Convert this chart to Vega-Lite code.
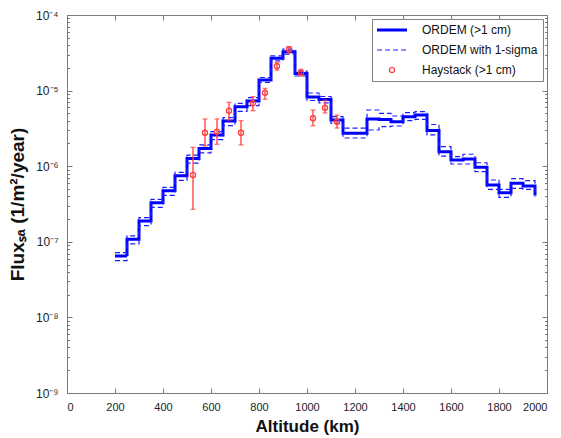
{
  "$schema": "https://vega.github.io/schema/vega-lite/v6.json",
  "width": 480,
  "height": 378,
  "autosize": {"type": "none"},
  "padding": {"left": 67, "top": 15, "right": 14, "bottom": 45},
  "background": "white",
  "config": {
    "font": "Liberation Sans",
    "view": {"stroke": "#7a7a7a", "strokeWidth": 1},
    "axis": {"domain": false, "grid": false, "labelFont": "Liberation Sans", "labelFontSize": 11, "labelColor": "#222222", "tickColor": "#7a7a7a", "tickWidth": 1, "titleFont": "Liberation Sans", "titleFontWeight": "bold", "titleColor": "#111111"},
    "legend": {"orient": "top-right", "offset": 4, "strokeColor": "#808080", "fillColor": "white", "padding": 5, "labelFont": "Liberation Sans", "labelFontSize": 12, "labelColor": "#111111", "labelOffset": 24, "symbolOffset": 9, "rowPadding": 8, "symbolType": "stroke"}
  },
  "datasets": {
    "ordem": [
      {"s": "ORDEM (>1 cm)", "b": "mid", "x": 200, "y": 6.5e-8},
      {"s": "ORDEM (>1 cm)", "b": "mid", "x": 250, "y": 1.08e-7},
      {"s": "ORDEM (>1 cm)", "b": "mid", "x": 300, "y": 1.88e-7},
      {"s": "ORDEM (>1 cm)", "b": "mid", "x": 350, "y": 3.29e-7},
      {"s": "ORDEM (>1 cm)", "b": "mid", "x": 400, "y": 4.74e-7},
      {"s": "ORDEM (>1 cm)", "b": "mid", "x": 450, "y": 7.48e-7},
      {"s": "ORDEM (>1 cm)", "b": "mid", "x": 500, "y": 1.26e-6},
      {"s": "ORDEM (>1 cm)", "b": "mid", "x": 550, "y": 1.72e-6},
      {"s": "ORDEM (>1 cm)", "b": "mid", "x": 600, "y": 2.59e-6},
      {"s": "ORDEM (>1 cm)", "b": "mid", "x": 650, "y": 3.96e-6},
      {"s": "ORDEM (>1 cm)", "b": "mid", "x": 700, "y": 6.12e-6},
      {"s": "ORDEM (>1 cm)", "b": "mid", "x": 750, "y": 7.28e-6},
      {"s": "ORDEM (>1 cm)", "b": "mid", "x": 800, "y": 1.38e-5},
      {"s": "ORDEM (>1 cm)", "b": "mid", "x": 850, "y": 2.67e-5},
      {"s": "ORDEM (>1 cm)", "b": "mid", "x": 900, "y": 3.27e-5},
      {"s": "ORDEM (>1 cm)", "b": "mid", "x": 950, "y": 1.68e-5},
      {"s": "ORDEM (>1 cm)", "b": "mid", "x": 1000, "y": 8.23e-6},
      {"s": "ORDEM (>1 cm)", "b": "mid", "x": 1050, "y": 7.62e-6},
      {"s": "ORDEM (>1 cm)", "b": "mid", "x": 1100, "y": 4.08e-6},
      {"s": "ORDEM (>1 cm)", "b": "mid", "x": 1150, "y": 2.72e-6},
      {"s": "ORDEM (>1 cm)", "b": "mid", "x": 1200, "y": 2.72e-6},
      {"s": "ORDEM (>1 cm)", "b": "mid", "x": 1250, "y": 4.21e-6},
      {"s": "ORDEM (>1 cm)", "b": "mid", "x": 1300, "y": 4.15e-6},
      {"s": "ORDEM (>1 cm)", "b": "mid", "x": 1350, "y": 3.88e-6},
      {"s": "ORDEM (>1 cm)", "b": "mid", "x": 1400, "y": 4.52e-6},
      {"s": "ORDEM (>1 cm)", "b": "mid", "x": 1450, "y": 4.75e-6},
      {"s": "ORDEM (>1 cm)", "b": "mid", "x": 1500, "y": 2.97e-6},
      {"s": "ORDEM (>1 cm)", "b": "mid", "x": 1550, "y": 1.55e-6},
      {"s": "ORDEM (>1 cm)", "b": "mid", "x": 1600, "y": 1.21e-6},
      {"s": "ORDEM (>1 cm)", "b": "mid", "x": 1650, "y": 1.245e-6},
      {"s": "ORDEM (>1 cm)", "b": "mid", "x": 1700, "y": 9.67e-7},
      {"s": "ORDEM (>1 cm)", "b": "mid", "x": 1750, "y": 5.64e-7},
      {"s": "ORDEM (>1 cm)", "b": "mid", "x": 1800, "y": 4.46e-7},
      {"s": "ORDEM (>1 cm)", "b": "mid", "x": 1850, "y": 5.94e-7},
      {"s": "ORDEM (>1 cm)", "b": "mid", "x": 1900, "y": 5.47e-7},
      {"s": "ORDEM (>1 cm)", "b": "mid", "x": 1950, "y": 4.1e-7},
      {"s": "ORDEM with 1-sigma", "b": "up", "x": 200, "y": 7.2e-8},
      {"s": "ORDEM with 1-sigma", "b": "up", "x": 250, "y": 1.2e-7},
      {"s": "ORDEM with 1-sigma", "b": "up", "x": 300, "y": 2.09e-7},
      {"s": "ORDEM with 1-sigma", "b": "up", "x": 350, "y": 3.65e-7},
      {"s": "ORDEM with 1-sigma", "b": "up", "x": 400, "y": 5.26e-7},
      {"s": "ORDEM with 1-sigma", "b": "up", "x": 450, "y": 8.3e-7},
      {"s": "ORDEM with 1-sigma", "b": "up", "x": 500, "y": 1.4e-6},
      {"s": "ORDEM with 1-sigma", "b": "up", "x": 550, "y": 1.91e-6},
      {"s": "ORDEM with 1-sigma", "b": "up", "x": 600, "y": 2.87e-6},
      {"s": "ORDEM with 1-sigma", "b": "up", "x": 650, "y": 4.4e-6},
      {"s": "ORDEM with 1-sigma", "b": "up", "x": 700, "y": 6.79e-6},
      {"s": "ORDEM with 1-sigma", "b": "up", "x": 750, "y": 8.08e-6},
      {"s": "ORDEM with 1-sigma", "b": "up", "x": 800, "y": 1.49e-5},
      {"s": "ORDEM with 1-sigma", "b": "up", "x": 850, "y": 2.88e-5},
      {"s": "ORDEM with 1-sigma", "b": "up", "x": 900, "y": 3.53e-5},
      {"s": "ORDEM with 1-sigma", "b": "up", "x": 950, "y": 1.81e-5},
      {"s": "ORDEM with 1-sigma", "b": "up", "x": 1000, "y": 9.3e-6},
      {"s": "ORDEM with 1-sigma", "b": "up", "x": 1050, "y": 8.35e-6},
      {"s": "ORDEM with 1-sigma", "b": "up", "x": 1100, "y": 4.52e-6},
      {"s": "ORDEM with 1-sigma", "b": "up", "x": 1150, "y": 3.18e-6},
      {"s": "ORDEM with 1-sigma", "b": "up", "x": 1200, "y": 3.18e-6},
      {"s": "ORDEM with 1-sigma", "b": "up", "x": 1250, "y": 5.54e-6},
      {"s": "ORDEM with 1-sigma", "b": "up", "x": 1300, "y": 5.01e-6},
      {"s": "ORDEM with 1-sigma", "b": "up", "x": 1350, "y": 4.61e-6},
      {"s": "ORDEM with 1-sigma", "b": "up", "x": 1400, "y": 5.1e-6},
      {"s": "ORDEM with 1-sigma", "b": "up", "x": 1450, "y": 5.26e-6},
      {"s": "ORDEM with 1-sigma", "b": "up", "x": 1500, "y": 3.56e-6},
      {"s": "ORDEM with 1-sigma", "b": "up", "x": 1550, "y": 1.81e-6},
      {"s": "ORDEM with 1-sigma", "b": "up", "x": 1600, "y": 1.34e-6},
      {"s": "ORDEM with 1-sigma", "b": "up", "x": 1650, "y": 1.44e-6},
      {"s": "ORDEM with 1-sigma", "b": "up", "x": 1700, "y": 1.11e-6},
      {"s": "ORDEM with 1-sigma", "b": "up", "x": 1750, "y": 6.57e-7},
      {"s": "ORDEM with 1-sigma", "b": "up", "x": 1800, "y": 4.95e-7},
      {"s": "ORDEM with 1-sigma", "b": "up", "x": 1850, "y": 6.83e-7},
      {"s": "ORDEM with 1-sigma", "b": "up", "x": 1900, "y": 6.43e-7},
      {"s": "ORDEM with 1-sigma", "b": "up", "x": 1950, "y": 4.3e-7},
      {"s": "ORDEM with 1-sigma", "b": "lo", "x": 200, "y": 5.65e-8},
      {"s": "ORDEM with 1-sigma", "b": "lo", "x": 250, "y": 9.4e-8},
      {"s": "ORDEM with 1-sigma", "b": "lo", "x": 300, "y": 1.64e-7},
      {"s": "ORDEM with 1-sigma", "b": "lo", "x": 350, "y": 2.86e-7},
      {"s": "ORDEM with 1-sigma", "b": "lo", "x": 400, "y": 4.12e-7},
      {"s": "ORDEM with 1-sigma", "b": "lo", "x": 450, "y": 6.5e-7},
      {"s": "ORDEM with 1-sigma", "b": "lo", "x": 500, "y": 1.1e-6},
      {"s": "ORDEM with 1-sigma", "b": "lo", "x": 550, "y": 1.5e-6},
      {"s": "ORDEM with 1-sigma", "b": "lo", "x": 600, "y": 2.25e-6},
      {"s": "ORDEM with 1-sigma", "b": "lo", "x": 650, "y": 3.45e-6},
      {"s": "ORDEM with 1-sigma", "b": "lo", "x": 700, "y": 5.32e-6},
      {"s": "ORDEM with 1-sigma", "b": "lo", "x": 750, "y": 6.33e-6},
      {"s": "ORDEM with 1-sigma", "b": "lo", "x": 800, "y": 1.28e-5},
      {"s": "ORDEM with 1-sigma", "b": "lo", "x": 850, "y": 2.48e-5},
      {"s": "ORDEM with 1-sigma", "b": "lo", "x": 900, "y": 3.04e-5},
      {"s": "ORDEM with 1-sigma", "b": "lo", "x": 950, "y": 1.56e-5},
      {"s": "ORDEM with 1-sigma", "b": "lo", "x": 1000, "y": 7.4e-6},
      {"s": "ORDEM with 1-sigma", "b": "lo", "x": 1050, "y": 6.86e-6},
      {"s": "ORDEM with 1-sigma", "b": "lo", "x": 1100, "y": 3.69e-6},
      {"s": "ORDEM with 1-sigma", "b": "lo", "x": 1150, "y": 2.36e-6},
      {"s": "ORDEM with 1-sigma", "b": "lo", "x": 1200, "y": 2.36e-6},
      {"s": "ORDEM with 1-sigma", "b": "lo", "x": 1250, "y": 3.01e-6},
      {"s": "ORDEM with 1-sigma", "b": "lo", "x": 1300, "y": 3.33e-6},
      {"s": "ORDEM with 1-sigma", "b": "lo", "x": 1350, "y": 3.4e-6},
      {"s": "ORDEM with 1-sigma", "b": "lo", "x": 1400, "y": 4.0e-6},
      {"s": "ORDEM with 1-sigma", "b": "lo", "x": 1450, "y": 4.17e-6},
      {"s": "ORDEM with 1-sigma", "b": "lo", "x": 1500, "y": 2.59e-6},
      {"s": "ORDEM with 1-sigma", "b": "lo", "x": 1550, "y": 1.36e-6},
      {"s": "ORDEM with 1-sigma", "b": "lo", "x": 1600, "y": 1.07e-6},
      {"s": "ORDEM with 1-sigma", "b": "lo", "x": 1650, "y": 1.07e-6},
      {"s": "ORDEM with 1-sigma", "b": "lo", "x": 1700, "y": 8.46e-7},
      {"s": "ORDEM with 1-sigma", "b": "lo", "x": 1750, "y": 4.95e-7},
      {"s": "ORDEM with 1-sigma", "b": "lo", "x": 1800, "y": 3.88e-7},
      {"s": "ORDEM with 1-sigma", "b": "lo", "x": 1850, "y": 5.1e-7},
      {"s": "ORDEM with 1-sigma", "b": "lo", "x": 1900, "y": 4.95e-7},
      {"s": "ORDEM with 1-sigma", "b": "lo", "x": 1950, "y": 3.9e-7}
    ],
    "hay": [
      {"s": "Haystack (>1 cm)", "x": 525, "y": 7.66e-7, "lo": 2.69e-7, "hi": 1.78e-6},
      {"s": "Haystack (>1 cm)", "x": 575, "y": 2.77e-6, "lo": 1.85e-6, "hi": 4.21e-6},
      {"s": "Haystack (>1 cm)", "x": 625, "y": 2.86e-6, "lo": 1.95e-6, "hi": 4.21e-6},
      {"s": "Haystack (>1 cm)", "x": 675, "y": 5.42e-6, "lo": 4.08e-6, "hi": 7.0e-6},
      {"s": "Haystack (>1 cm)", "x": 725, "y": 2.77e-6, "lo": 1.91e-6, "hi": 4.0e-6},
      {"s": "Haystack (>1 cm)", "x": 775, "y": 6.79e-6, "lo": 5.42e-6, "hi": 8.3e-6},
      {"s": "Haystack (>1 cm)", "x": 825, "y": 9.37e-6, "lo": 7.67e-6, "hi": 1.07e-5},
      {"s": "Haystack (>1 cm)", "x": 875, "y": 2.11e-5, "lo": 1.87e-5, "hi": 2.34e-5},
      {"s": "Haystack (>1 cm)", "x": 925, "y": 3.52e-5, "lo": 3.17e-5, "hi": 3.81e-5},
      {"s": "Haystack (>1 cm)", "x": 975, "y": 1.73e-5, "lo": 1.56e-5, "hi": 1.91e-5},
      {"s": "Haystack (>1 cm)", "x": 1025, "y": 4.31e-6, "lo": 3.43e-6, "hi": 5.54e-6},
      {"s": "Haystack (>1 cm)", "x": 1075, "y": 5.94e-6, "lo": 5.06e-6, "hi": 7.45e-6},
      {"s": "Haystack (>1 cm)", "x": 1125, "y": 3.88e-6, "lo": 3.2e-6, "hi": 4.75e-6}
    ]
  },
  "layer": [
    {
      "data": {"name": "ordem"},
      "mark": {"type": "line", "interpolate": "step-after"},
      "encoding": {
        "x": {"field": "x", "type": "quantitative", "scale": {"domain": [0, 2000], "nice": false},
          "axis": {"orient": "bottom", "values": [0, 200, 400, 600, 800, 1000, 1200, 1400, 1600, 1800, 2000], "format": "d", "tickSize": -5, "labelPadding": 13, "title": "Altitude (km)", "titleFontSize": 17, "titlePadding": 6}},
        "y": {"field": "y", "type": "quantitative", "scale": {"type": "log", "domain": [1e-9, 0.0001], "nice": false},
          "axis": {"orient": "left",
            "values": [1e-9, 2e-9, 3e-9, 4e-9, 5e-9, 6e-9, 7e-9, 8e-9, 9e-9, 1e-8, 2e-8, 3e-8, 4e-8, 5e-8, 6e-8, 7e-8, 8e-8, 9e-8, 1e-7, 2e-7, 3e-7, 4e-7, 5e-7, 6e-7, 7e-7, 8e-7, 9e-7, 1e-6, 2e-6, 3e-6, 4e-6, 5e-6, 6e-6, 7e-6, 8e-6, 9e-6, 1e-5, 2e-5, 3e-5, 4e-5, 5e-5, 6e-5, 7e-5, 8e-5, 9e-5, 0.0001],
            "tickSize": {"condition": {"test": "abs(log(datum.value)/LN10 - round(log(datum.value)/LN10)) < 0.01", "value": -5}, "value": -2.5},
            "labelExpr": "abs(log(datum.value)/LN10 - round(log(datum.value)/LN10)) < 0.01 ? '10⁻' + ['⁰','¹','²','³','⁴','⁵','⁶','⁷','⁸','⁹'][-round(log(datum.value)/LN10)] : ''",
            "labelOverlap": false, "labelPadding": 14, "labelFontSize": 12,
            "title": "Fluxₛₐ (1/m²/year)", "titleFontSize": 19, "titlePadding": 8}},
        "color": {"field": "s", "type": "nominal", "scale": {"domain": ["ORDEM (>1 cm)", "ORDEM with 1-sigma", "Haystack (>1 cm)"], "range": ["#0000ff", "#1a1aff", "#ff3b3b"]},
          "legend": {"title": null,
            "encode": {"symbols": {"update": {
              "shape": {"signal": "datum.value == 'Haystack (>1 cm)' ? 'circle' : 'stroke'"},
              "size": {"signal": "datum.value == 'Haystack (>1 cm)' ? 26 : 900"},
              "strokeWidth": {"signal": "datum.value == 'ORDEM (>1 cm)' ? 3 : (datum.value == 'Haystack (>1 cm)' ? 1.3 : 1.2)"},
              "fill": {"value": "transparent"}
            }}}}},
        "strokeDash": {"field": "s", "type": "nominal", "scale": {"domain": ["ORDEM (>1 cm)", "ORDEM with 1-sigma", "Haystack (>1 cm)"], "range": [[1, 0], [5, 3], [1, 0]]}, "legend": {"title": null}},
        "strokeWidth": {"condition": {"test": "datum.s == 'ORDEM (>1 cm)'", "value": 3}, "value": 1.2},
        "detail": {"field": "b"}
      }
    },
    {
      "data": {"name": "hay"},
      "mark": {"type": "errorbar", "ticks": {"size": 5, "thickness": 1.3}, "thickness": 1.3, "color": "#ff3b3b"},
      "encoding": {
        "x": {"field": "x", "type": "quantitative", "axis": null},
        "y": {"field": "lo", "type": "quantitative", "axis": null},
        "y2": {"field": "hi"}
      }
    },
    {
      "data": {"name": "hay"},
      "mark": {"type": "point", "filled": false, "opacity": 1, "size": 26, "strokeWidth": 1.3},
      "encoding": {
        "x": {"field": "x", "type": "quantitative", "axis": null},
        "y": {"field": "y", "type": "quantitative", "axis": null},
        "color": {"field": "s", "type": "nominal", "legend": {"title": null}}
      }
    },
    {
      "data": {"name": "hay"},
      "mark": {"type": "point", "opacity": 0},
      "encoding": {
        "x": {"field": "x", "type": "quantitative",
          "axis": {"orient": "top", "values": [0, 200, 400, 600, 800, 1000, 1200, 1400, 1600, 1800, 2000], "tickSize": -5, "labels": false, "title": null}},
        "y": {"field": "y", "type": "quantitative",
          "axis": {"orient": "right",
            "values": [1e-9, 2e-9, 3e-9, 4e-9, 5e-9, 6e-9, 7e-9, 8e-9, 9e-9, 1e-8, 2e-8, 3e-8, 4e-8, 5e-8, 6e-8, 7e-8, 8e-8, 9e-8, 1e-7, 2e-7, 3e-7, 4e-7, 5e-7, 6e-7, 7e-7, 8e-7, 9e-7, 1e-6, 2e-6, 3e-6, 4e-6, 5e-6, 6e-6, 7e-6, 8e-6, 9e-6, 1e-5, 2e-5, 3e-5, 4e-5, 5e-5, 6e-5, 7e-5, 8e-5, 9e-5, 0.0001],
            "tickSize": {"condition": {"test": "abs(log(datum.value)/LN10 - round(log(datum.value)/LN10)) < 0.01", "value": -5}, "value": -2.5},
            "labels": false, "title": null}}
      }
    }
  ],
  "resolve": {"axis": {"x": "independent", "y": "independent"}}
}
